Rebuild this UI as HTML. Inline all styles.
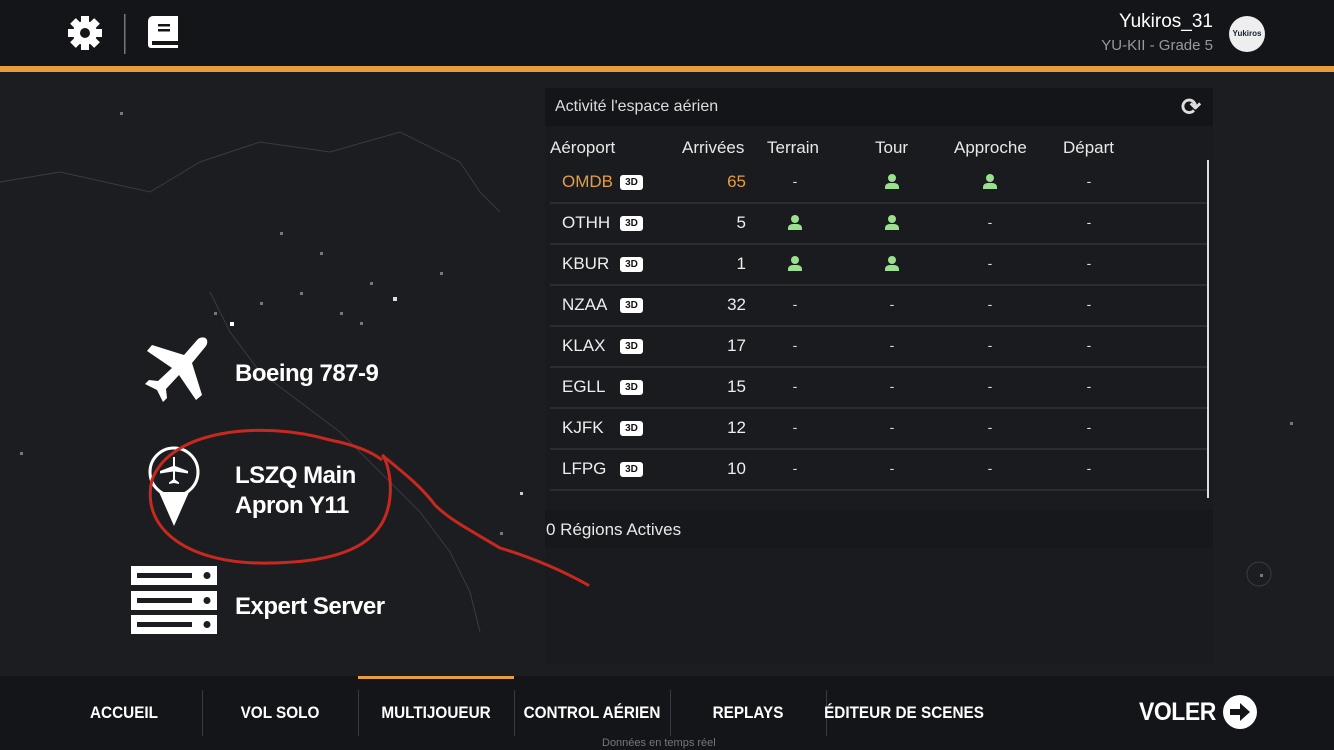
<!DOCTYPE html>
<html><head><meta charset="utf-8"><style>
*{margin:0;padding:0;box-sizing:border-box}
body{width:1334px;height:750px;overflow:hidden;background:#1c1d21;font-family:"Liberation Sans",sans-serif;color:#fff;position:relative}
.a{position:absolute;white-space:nowrap}
.hdr{left:0;top:0;width:1334px;height:66px;background:#141519}
.orange{left:0;top:66px;width:1334px;height:6px;background:#e89d3c}
.bot{left:0;top:676px;width:1334px;height:74px;background:#141519}
.panel{left:545px;top:88px;width:668px;height:576px;background:#1a1b1f}
.ph{left:545px;top:88px;width:668px;height:38px;background:#141519}
.t{font-size:17px;color:#e8e8e8}
.row{left:550px;width:657px;height:2px;background:#2c2d31}
.b3{width:23px;height:15px;background:#fff;color:#111;font-size:10px;font-weight:bold;border-radius:3px;text-align:center;line-height:15px}
.dash{font-size:14px;color:#ddd;transform:translateX(-50%)}
.nav{font-size:17px;font-weight:bold;transform:translateX(-50%) scaleX(.9);top:703px}
.sep{top:690px;width:1px;height:46px;background:#3a3b40}
.big{font-size:24px;font-weight:bold;letter-spacing:-.5px}
</style></head><body>
<svg class="a" style="left:0;top:72px" width="1334" height="604">
<g fill="#777">
<rect x="230" y="250" width="4" height="4" fill="#fff"/><rect x="393" y="225" width="4" height="4" fill="#ddd"/>
<rect x="214" y="240" width="3" height="3"/><rect x="260" y="230" width="3" height="3"/><rect x="300" y="220" width="3" height="3"/>
<rect x="340" y="240" width="3" height="3"/><rect x="370" y="210" width="3" height="3"/><rect x="360" y="250" width="3" height="3"/>
<rect x="320" y="180" width="3" height="3"/><rect x="280" y="160" width="3" height="3"/><rect x="120" y="40" width="3" height="3"/>
<rect x="520" y="420" width="3" height="3" fill="#ccc"/><rect x="500" y="460" width="3" height="3"/><rect x="440" y="200" width="3" height="3"/>
<rect x="1260" y="502" width="3" height="3"/><rect x="1290" y="350" width="3" height="3"/><rect x="20" y="380" width="3" height="3"/>
</g>
<g fill="none" stroke="#3a3b40" stroke-width="1">
<circle cx="1259" cy="502" r="12"/>
<path d="M0 110 L60 100 L150 120 L200 90 L260 70 L330 80 L400 60 L460 90 L480 120 L500 140"/>
<path d="M210 220 L230 260 L260 300 L300 330 L340 360 L380 400 L420 440 L450 480 L470 520 L480 560"/>
</g>
</svg>
<div class="a hdr"></div>
<div class="a orange"></div>
<svg class="a" style="left:66px;top:14px" width="120" height="40">
<g fill="#fff"><circle cx="19" cy="19" r="12"/>
<rect x="15" y="2" width="8" height="34"/><rect x="2" y="15" width="34" height="8"/>
<rect x="15" y="2" width="8" height="34" transform="rotate(45 19 19)"/><rect x="15" y="2" width="8" height="34" transform="rotate(-45 19 19)"/></g>
<circle cx="19" cy="19" r="5" fill="#141519"/>
<rect x="58" y="0" width="1.5" height="40" fill="#777"/>
<path d="M87 2 h25 v32 h-27 a3 3 0 0 1 -3 -3 v-24 a5 5 0 0 1 5 -5z" fill="#fff"/>
<rect x="92" y="10" width="12" height="2.5" fill="#141519"/><rect x="92" y="15" width="12" height="2.5" fill="#141519"/>
<rect x="86" y="27" width="26" height="4" fill="#141519"/>
</svg>
<div class="a" style="right:121px;top:11px;font-size:19px;color:#fff">Yukiros_31</div>
<div class="a" style="right:121px;top:37px;font-size:15px;color:#999">YU-KII - Grade 5</div>
<div class="a" style="left:1229px;top:16px;width:36px;height:36px;border-radius:50%;background:#eee;color:#123;font-size:8px;font-weight:bold;text-align:center;line-height:36px">Yukiros</div>

<div class="a panel"></div>
<div class="a ph"></div>
<div class="a" style="left:555px;top:98px;font-size:16px;color:#ddd">Activité l'espace aérien</div>
<div class="a" style="left:1181px;top:93px;font-size:24px;color:#ddd;font-weight:bold">⟳</div>
<div class="a t" style="left:550px;top:138px">Aéroport</div>
<div class="a t" style="left:682px;top:138px">Arrivées</div>
<div class="a t" style="left:767px;top:138px">Terrain</div>
<div class="a t" style="left:875px;top:138px">Tour</div>
<div class="a t" style="left:954px;top:138px">Approche</div>
<div class="a t" style="left:1063px;top:138px">Départ</div>
<div class="a" style="left:1207px;top:160px;width:2px;height:338px;background:#ddd"></div>

<div id="rows"></div>
<div class="a" style="left:545px;top:510px;width:668px;height:38px;background:#17181c"></div>
<div class="a t" style="left:546px;top:520px">0 Régions Actives</div>

<svg class="a" style="left:0;top:0" width="1334" height="750" id="ov">
<defs><g id="ps"><circle cx="0" cy="-4" r="4" fill="#9be08e"/><path d="M-7 7 v-2 a5 4 0 0 1 5 -4 h4 a5 4 0 0 1 5 4 v2z" fill="#9be08e"/></g></defs>
</svg>

<svg class="a" style="left:138px;top:335px" width="72" height="70"><path fill="#fff" d="M60 4 c6-4 12 0 8 7 l-14 17 l10 32 l-6 5 l-17-25 l-13 14 l1 9 l-4 4 l-6-12 l-12-6 l4-4 l9 1 l14-13 l-25-17 l5-6 l32 10z"/></svg>
<div class="a big" style="left:235px;top:360px">Boeing 787-9</div>
<svg class="a" style="left:146px;top:444px" width="58" height="84">
<path d="M13 48 L28 82 L43 48 Z" fill="#fff"/>
<circle cx="28" cy="28" r="24" fill="none" stroke="#fff" stroke-width="3"/>
<path fill="#fff" d="M27 13 h2 v9 l13 5 v2.5 l-13-2 v8 l4 3 v1.5 l-5-1 l-5 1 v-1.5 l4-3 v-8 l-13 2 v-2.5 l13-5z"/></svg>
<div class="a big" style="left:235px;top:462px">LSZQ Main</div>
<div class="a big" style="left:235px;top:492px">Apron Y11</div>
<svg class="a" style="left:131px;top:566px" width="88" height="68"><g fill="#fff">
<rect x="0" y="0" width="86" height="19"/><rect x="0" y="25" width="86" height="19"/><rect x="0" y="49" width="86" height="19"/></g>
<g fill="#1c1d21"><rect x="6" y="7" width="55" height="5"/><rect x="6" y="32" width="55" height="5"/><rect x="6" y="56" width="55" height="5"/>
<circle cx="76" cy="9.5" r="3.5"/><circle cx="76" cy="34.5" r="3.5"/><circle cx="76" cy="58.5" r="3.5"/></g></svg>
<div class="a big" style="left:235px;top:593px">Expert Server</div>

<svg class="a" style="left:0;top:0" width="1334" height="750"><path d="M330 440 C260 420 170 430 152 480 C140 530 190 565 270 563 C350 562 395 540 390 480 C388 465 385 458 382 455 C400 470 420 485 435 505 C450 520 470 530 500 548 C540 560 570 575 588 585" fill="none" stroke="#c8281e" stroke-width="3" stroke-linecap="round"/>
<path d="M330 440 C355 445 372 452 382 460" fill="none" stroke="#c8281e" stroke-width="3"/></svg>

<div class="a bot"></div>
<div class="a" style="left:358px;top:676px;width:156px;height:3px;background:#e89d3c"></div>
<div class="a sep" style="left:202px"></div><div class="a sep" style="left:358px"></div><div class="a sep" style="left:514px"></div><div class="a sep" style="left:670px"></div><div class="a sep" style="left:826px"></div>
<div class="a nav" style="left:124px">ACCUEIL</div>
<div class="a nav" style="left:280px">VOL SOLO</div>
<div class="a nav" style="left:436px">MULTIJOUEUR</div>
<div class="a nav" style="left:592px">CONTROL AÉRIEN</div>
<div class="a nav" style="left:748px">REPLAYS</div>
<div class="a nav" style="left:904px">ÉDITEUR DE SCENES</div>
<div class="a" style="left:1139px;top:698px;font-size:25px;font-weight:bold;letter-spacing:-.5px;transform:scaleX(.92);transform-origin:left">VOLER</div>
<svg class="a" style="left:1222px;top:694px" width="36" height="36"><circle cx="18" cy="18" r="17" fill="#fff"/><path d="M8 15 h10 v-6 l10 9 l-10 9 v-6 h-10z" fill="#141519"/></svg>
<div class="a" style="left:602px;top:737px;font-size:11px;color:#777">Données en temps réel</div>

<script>
var d=[["OMDB","65","-","p","p","-",1],["OTHH","5","p","p","-","-"],["KBUR","1","p","p","-","-"],["NZAA","32","-","-","-","-"],["KLAX","17","-","-","-","-"],["EGLL","15","-","-","-","-"],["KJFK","12","-","-","-","-"],["LFPG","10","-","-","-","-"]];
var h="",ov="",cx=[795,892,990,1089];
d.forEach(function(r,i){var y=182+41*i,c=r[6]?"#e89d3c":"#eee";
h+='<div class="a t" style="left:562px;top:'+(y-10)+'px;color:'+c+'">'+r[0]+'</div>';
h+='<div class="a b3" style="left:620px;top:'+(y-7)+'px">3D</div>';
h+='<div class="a t" style="right:'+(1334-746)+'px;top:'+(y-10)+'px;color:'+c+'">'+r[1]+'</div>';
for(var k=0;k<4;k++){if(r[2+k]=="p")ov+='<use href="#ps" x="'+cx[k]+'" y="'+y+'"/>';else h+='<div class="a dash" style="left:'+cx[k]+'px;top:'+(y-9)+'px">-</div>';}
h+='<div class="a row" style="top:'+(y+20)+'px"></div>';});
document.getElementById("rows").outerHTML=h;
document.getElementById("ov").innerHTML+=ov;
</script>
</body></html>
